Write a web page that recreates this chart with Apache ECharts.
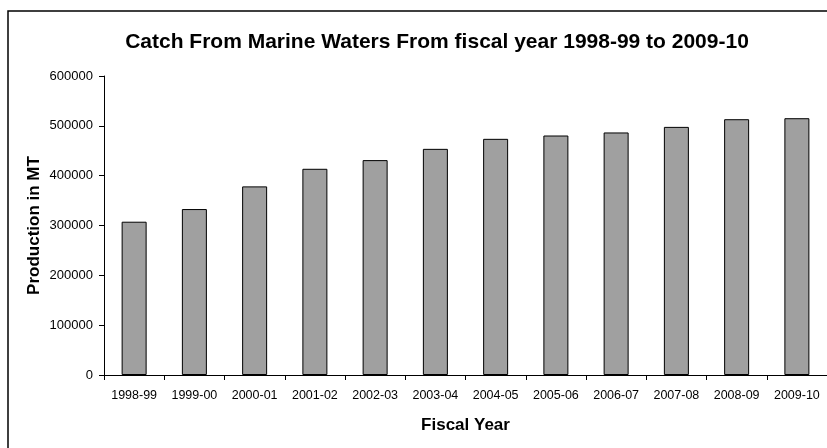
<!DOCTYPE html>
<html>
<head>
<meta charset="utf-8">
<title>Catch From Marine Waters</title>
<script src="https://cdn.jsdelivr.net/npm/echarts@6/dist/echarts.min.js"></script>
<style>
  html, body { margin: 0; padding: 0; background: #ffffff; }
  #chart { width: 827px; height: 448px; }
</style>
</head>
<body>
<div id="chart"></div>
<script>
// Fiscal years and marine catch (metric tonnes)
const fiscalYears = ['1998-99', '1999-00', '2000-01', '2001-02', '2002-03', '2003-04',
                     '2004-05', '2005-06', '2006-07', '2007-08', '2008-09', '2009-10'];
const marineCatch = [307600, 333000, 378500, 413800, 431200, 453800,
                     473900, 480600, 486700, 497900, 513300, 515300];
const yTicks = [0, 100000, 200000, 300000, 400000, 500000, 600000];

const FONT = '"Liberation Sans", Arial, sans-serif';

const chart = echarts.init(document.getElementById('chart'), null, { renderer: 'canvas' });

chart.setOption({
  backgroundColor: '#ffffff',
  animation: false,
  title: {
    text: 'Catch From Marine Waters From fiscal year 1998-99 to 2009-10',
    left: 432,
    top: 27,
    textAlign: 'center',
    textStyle: { fontFamily: FONT, fontWeight: 'bold', fontSize: 21, color: '#000000' }
  },
  graphic: [{
    type: 'rect',
    shape: { x: 8, y: 11, width: 840, height: 460 },
    style: { fill: 'none', stroke: '#000000', lineWidth: 1.5 },
    silent: true
  }],
  grid: { left: 104, right: -2, top: 76, bottom: 73, containLabel: false },
  xAxis: {
    type: 'category',
    data: fiscalYears,
    boundaryGap: true,
    name: 'Fiscal Year',
    nameLocation: 'middle',
    nameGap: 42,
    nameTextStyle: { fontFamily: FONT, fontWeight: 'bold', fontSize: 17, color: '#000000' },
    axisLine: { lineStyle: { color: '#000000', width: 1 } },
    axisTick: { show: true, length: 5, lineStyle: { color: '#000000' } },
    axisLabel: { fontFamily: FONT, fontSize: 12.5, color: '#000000', margin: 14, interval: 0 },
    splitLine: { show: false }
  },
  yAxis: {
    type: 'value',
    min: yTicks[0],
    max: yTicks[yTicks.length - 1],
    interval: yTicks[1] - yTicks[0],
    name: 'Production in MT',
    nameLocation: 'middle',
    nameGap: 61,
    nameMoveOverlap: false,
    nameTextStyle: { fontFamily: FONT, fontWeight: 'bold', fontSize: 17, color: '#000000' },
    axisLine: { show: true, lineStyle: { color: '#000000', width: 1 } },
    axisTick: { show: true, length: 5, lineStyle: { color: '#000000' } },
    axisLabel: {
      fontFamily: FONT, fontSize: 13, color: '#000000', margin: 11,
      formatter: (v) => String(v)
    },
    splitLine: { show: false }
  },
  series: [{
    type: 'bar',
    data: marineCatch,
    barWidth: 25,
    itemStyle: { color: '#a0a0a0', borderColor: '#000000', borderWidth: 1 },
    emphasis: { disabled: true }
  }]
});
</script>
</body>
</html>
